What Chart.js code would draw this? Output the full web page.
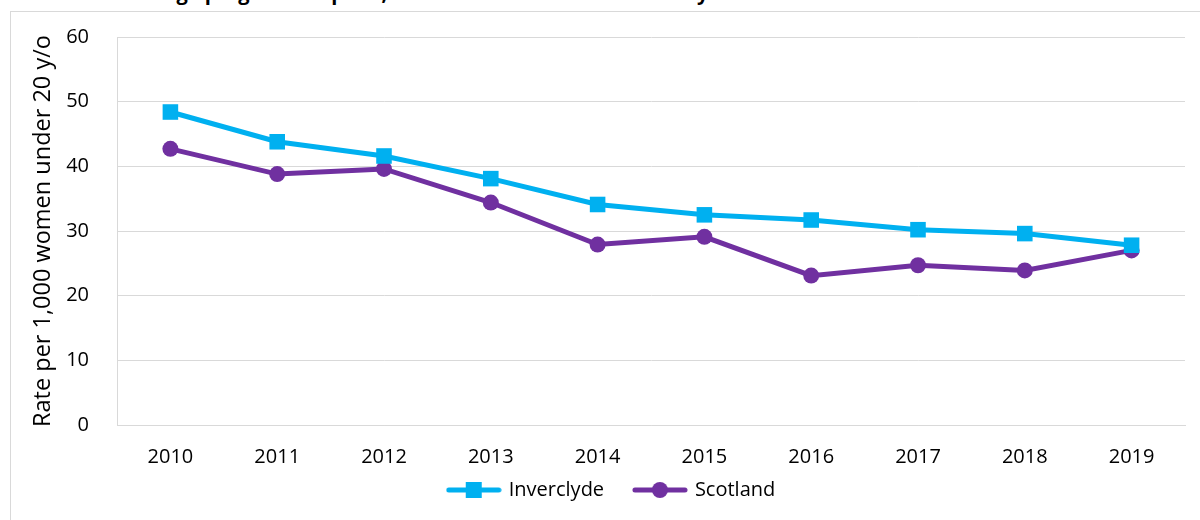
<!DOCTYPE html>
<html lang="en">
<head>
    <meta charset="UTF-8">
    <title>Teenage pregnancies - Inverclyde and Scotland</title>
    <script src="https://cdn.jsdelivr.net/npm/chart.js"></script>
    <style>
        html, body { margin: 0; padding: 0; background: #fff; }
        body { width: 1200px; height: 520px; position: relative; overflow: hidden; }
        .doc-title {
            position: absolute; left: 116px; top: -17px;
            font: bold 20px "Open Sans", sans-serif; line-height: 20px;
            color: #000; white-space: nowrap;
        }
        .frame {
            position: absolute; left: 10px; top: 11px; width: 1200px; height: 520px;
            border: 1px solid #d9d9d9;
        }
        .chart { position: absolute; left: 0; top: 0; width: 1200px; height: 520px; }
    </style>
</head>
<body>
    <div class="doc-title">Teenage pregnancies per 1,000 females under 20 in Inverclyde and Scotland</div>
    <div class="frame"></div>
    <div class="chart">
        <canvas id="rateChart" width="1200" height="520"></canvas>
    </div>

    <script>
        // Data
        const years = ['2010', '2011', '2012', '2013', '2014', '2015', '2016', '2017', '2018', '2019'];
        const inverclyde = [48.4, 43.8, 41.6, 38.1, 34.1, 32.5, 31.7, 30.2, 29.6, 27.8];
        const scotland = [42.7, 38.8, 39.6, 34.4, 27.9, 29.1, 23.1, 24.7, 23.9, 27.0];

        const blue = '#00B0F0';
        const purple = '#7030A0';
        const gridColor = '#d9d9d9';
        const fontFamily = '"Open Sans", sans-serif';

        // small picture of line + marker for the legend
        function legendIcon(color, shape) {
            const c = document.createElement('canvas');
            c.width = 56;
            c.height = 18;
            const g = c.getContext('2d');
            g.strokeStyle = color;
            g.lineWidth = 5;
            g.lineCap = 'round';
            g.beginPath();
            g.moveTo(3, 9);
            g.lineTo(53, 9);
            g.stroke();
            g.fillStyle = color;
            if (shape === 'rect') {
                g.fillRect(20, 1, 16, 16);
            } else {
                g.beginPath();
                g.arc(28, 9, 8, 0, Math.PI * 2);
                g.fill();
            }
            return c;
        }
        const icons = [legendIcon(blue, 'rect'), legendIcon(purple, 'circle')];

        const config = {
            type: 'line',
            data: {
                labels: years,
                datasets: [{
                    label: 'Inverclyde',
                    data: inverclyde,
                    borderColor: blue,
                    backgroundColor: blue,
                    borderWidth: 5,
                    pointStyle: 'rect',
                    pointRadius: 11,
                    pointHoverRadius: 11,
                    pointBorderWidth: 0,
                    tension: 0,
                    fill: false
                }, {
                    label: 'Scotland',
                    data: scotland,
                    borderColor: purple,
                    backgroundColor: purple,
                    borderWidth: 5,
                    pointStyle: 'circle',
                    pointRadius: 8,
                    pointHoverRadius: 8,
                    pointBorderWidth: 0,
                    tension: 0,
                    fill: false
                }]
            },
            options: {
                responsive: false,
                animation: false,
                layout: {
                    // left padding is larger so the legend sits a bit right of centre, like the original
                    padding: { left: 39, top: 30, right: 15, bottom: 10 }
                },
                plugins: {
                    tooltip: { enabled: false },
                    legend: {
                        position: 'bottom',
                        labels: {
                            color: '#000',
                            font: { family: fontFamily, size: 20 },
                            usePointStyle: true,
                            pointStyleWidth: 50,
                            padding: 10,
                            generateLabels: function(chart) {
                                const items = Chart.defaults.plugins.legend.labels.generateLabels(chart);
                                items.forEach(function(item, i) {
                                    item.pointStyle = icons[i];
                                    // a little extra room between the two entries, as in the original
                                    if (i === 0) item.text = item.text + '\u00A0\u00A0\u00A0\u00A0';
                                });
                                return items;
                            }
                        }
                    }
                },
                scales: {
                    x: {
                        offset: true,
                        grid: { display: false, drawTicks: false },
                        border: { color: gridColor, width: 1 },
                        ticks: { color: '#000', font: { family: fontFamily, size: 20 }, padding: 20 },
                        afterFit: function(scale) { scale.height = 45; }
                    },
                    y: {
                        min: 0,
                        max: 60,
                        grid: { color: gridColor, lineWidth: 1, drawTicks: false },
                        border: { color: gridColor, width: 1 },
                        ticks: {
                            stepSize: 10,
                            color: '#000',
                            font: { family: fontFamily, size: 20, lineHeight: 0.9 },
                            padding: 28
                        },
                        title: {
                            display: true,
                            text: 'Rate per 1,000 women under 20 y/o',
                            color: '#000',
                            font: { family: fontFamily, size: 23.5 },
                            padding: { top: -10, bottom: 4 }
                        },
                        afterFit: function(scale) { scale.width = 78; }
                    }
                }
            }
        };

        window.onload = function() {
            const ctx = document.getElementById('rateChart').getContext('2d');
            new Chart(ctx, config);
        };
    </script>
</body>
</html>
